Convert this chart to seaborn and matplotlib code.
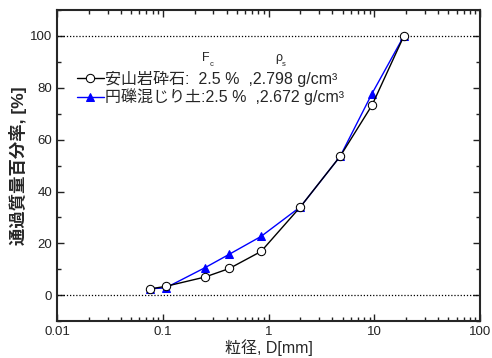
import matplotlib
matplotlib.use("Agg")
import matplotlib.pyplot as plt
import matplotlib.ticker as mticker
import pandas as pd
import seaborn as sns

# 粒度データ
sieve_mm = [0.075, 0.106, 0.25, 0.425, 0.85, 2.0, 4.75, 9.5, 19.0]
andesite = [2.4, 3.4, 7.0, 10.3, 16.9, 34.1, 53.6, 73.3, 100.0]
gravel_soil = [2.5, 2.8, 10.6, 15.8, 22.7, 34.1, 53.6, 77.8, 100.0]

label_andesite = "安山岩砕石:  2.5 %  ,2.798 g/cm³"
label_gravel = "円礫混じり土:2.5 %  ,2.672 g/cm³"

df = pd.concat([
    pd.DataFrame({"D": sieve_mm, "P": andesite, "s": label_andesite}),
    pd.DataFrame({"D": sieve_mm, "P": gravel_soil, "s": label_gravel}),
])

sns.set_style("ticks")
plt.rcParams['font.family'] = ['Liberation Sans', 'Noto Sans CJK JP', 'DejaVu Sans']

fig = plt.figure(figsize=(4.92, 3.58), dpi=100)
ax = fig.add_axes([0.116, 0.103, 0.86, 0.869])

ax.axhline(0, color="black", ls=(0, (1, 1.5)), lw=0.9, zorder=1)
ax.axhline(100, color="black", ls=(0, (1, 1.5)), lw=0.9, zorder=1)

sns.lineplot(data=df, x="D", y="P", hue="s", style="s",
             palette={label_andesite: "black", label_gravel: "#0000ff"},
             markers={label_andesite: "o", label_gravel: "^"},
             dashes=False, lw=1.0, ms=6, ax=ax, zorder=3)

# 白抜き丸
for line in ax.lines:
    if line.get_marker() == "o":
        line.set_markerfacecolor("white")
        line.set_markeredgecolor("black")
        line.set_zorder(4)
    elif line.get_marker() == "^":
        line.set_markeredgecolor("#0000ff")
        line.set_markerfacecolor("#0000ff")

ax.set_xscale("log")
ax.set_xlim(0.01, 100)
ax.set_ylim(-10, 110)
ax.xaxis.set_major_formatter(mticker.FuncFormatter(lambda v, p: f"{v:g}"))
ax.yaxis.set_major_locator(mticker.MultipleLocator(20))
ax.yaxis.set_minor_locator(mticker.MultipleLocator(10))
ax.tick_params(which="both", direction="in", top=True, right=True,
               labelsize=9.5, width=1.0, colors="#222222")
ax.tick_params(which="major", length=5)
ax.tick_params(which="minor", length=3)
for sp in ax.spines.values():
    sp.set_linewidth(1.5)

ax.set_xlabel("粒径, D[mm]", fontsize=11.5, labelpad=1)
ax.set_ylabel("通過質量百分率, [%]", fontsize=12.5, fontweight="bold", labelpad=2)

leg = ax.legend(loc="upper left", bbox_to_anchor=(0.02, 0.84), frameon=False,
                fontsize=11.5, handlelength=1.7, handletextpad=0.1,
                labelspacing=0.1, borderaxespad=0.3)

# 見出し F_c, ρ_s
ax.text(0.352, 0.845, "F", transform=ax.transAxes, fontsize=9,
        ha="center", va="center")
ax.text(0.364, 0.825, "c", transform=ax.transAxes, fontsize=5.5,
        ha="center", va="center")
ax.text(0.524, 0.845, "ρ", transform=ax.transAxes, fontsize=9,
        ha="center", va="center")
ax.text(0.536, 0.825, "s", transform=ax.transAxes, fontsize=5.5,
        ha="center", va="center")

fig.savefig("out.png", dpi=100)
